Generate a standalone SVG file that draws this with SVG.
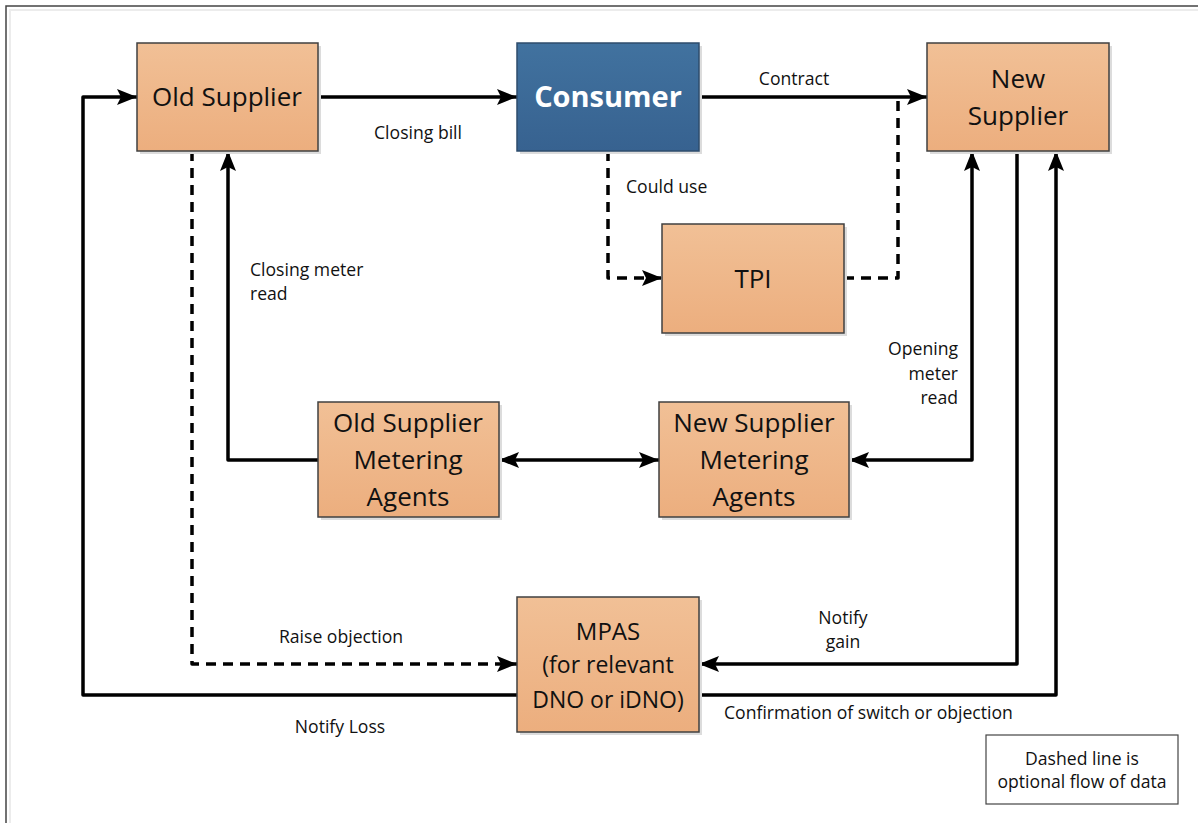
<svg xmlns="http://www.w3.org/2000/svg" width="1198" height="823" viewBox="0 0 1198 823">
<defs>
  <linearGradient id="peach" x1="0" y1="0" x2="0" y2="1">
    <stop offset="0" stop-color="#f1c096"/>
    <stop offset="1" stop-color="#ecae7e"/>
  </linearGradient>
  <linearGradient id="blue" x1="0" y1="0" x2="0" y2="1">
    <stop offset="0" stop-color="#41729f"/>
    <stop offset="1" stop-color="#376290"/>
  </linearGradient>
  <marker id="ah" viewBox="0 0 20 16" refX="20" refY="8" markerWidth="20" markerHeight="16" markerUnits="userSpaceOnUse" orient="auto-start-reverse">
    <path d="M0,0 L20,8 L0,16 L4,8 Z" fill="#000"/>
  </marker>
  <style>
    .box { fill: url(#peach); stroke: #404040; stroke-width: 1.5; }
    .cbox { fill: url(#blue); stroke: #2e4c6c; stroke-width: 1.5; }
    .shadow { fill: #dcdcdc; }
    .nt { font-family: "Open Sans", "Liberation Sans", sans-serif; font-size: 26px; fill: #111; text-anchor: middle; }
    .ct { font-family: "Open Sans", "Liberation Sans", sans-serif; font-size: 29px; font-weight: bold; fill: #fff; text-anchor: middle; }
    .lb { font-family: "Open Sans", "Liberation Sans", sans-serif; font-size: 17.6px; fill: #111; }
    .ln { fill: none; stroke: #000; stroke-width: 3.5; stroke-linejoin: round; }
    .dl { fill: none; stroke: #000; stroke-width: 3.5; stroke-dasharray: 10 7; stroke-linejoin: round; }
  </style>
</defs>
<rect x="0" y="0" width="1198" height="823" fill="#fff"/>
<path d="M6,823 V6 H1198" fill="none" stroke="#444" stroke-width="1.5"/>
<path d="M10,823 V10 H1198" fill="none" stroke="#ececec" stroke-width="2"/>

<g id="connectors">
  <path class="ln" d="M318,97 H517" marker-end="url(#ah)"/>
  <text class="lb" x="418" y="139" text-anchor="middle">Closing bill</text>
  <path class="ln" d="M699,97 H927" marker-end="url(#ah)"/>
  <text class="lb" x="794" y="85" text-anchor="middle">Contract</text>
  <path class="dl" d="M608,151 V278 H662" marker-end="url(#ah)"/>
  <text class="lb" x="626" y="193">Could use</text>
  <path class="dl" d="M844,278 H898 V97"/>
  <path class="ln" d="M517,695 H83 V97 H137" marker-end="url(#ah)"/>
  <text class="lb" x="340" y="733" text-anchor="middle">Notify Loss</text>
  <path class="dl" d="M192,151 V664 H517" marker-end="url(#ah)"/>
  <text class="lb" x="341" y="643" text-anchor="middle">Raise objection</text>
  <path class="ln" d="M318,460 H228 V151" marker-end="url(#ah)"/>
  <text class="lb" x="250" y="276">Closing meter</text>
  <text class="lb" x="250" y="300">read</text>
  <path class="ln" d="M499,460 H659" marker-start="url(#ah)" marker-end="url(#ah)"/>
  <path class="ln" d="M849,460 H972 V151" marker-start="url(#ah)" marker-end="url(#ah)"/>
  <text class="lb" x="958" y="355" text-anchor="end">Opening</text>
  <text class="lb" x="958" y="380" text-anchor="end">meter</text>
  <text class="lb" x="958" y="404" text-anchor="end">read</text>
  <path class="ln" d="M1017,151 V664 H699" marker-end="url(#ah)"/>
  <text class="lb" x="843" y="624" text-anchor="middle">Notify</text>
  <text class="lb" x="843" y="648" text-anchor="middle">gain</text>
  <path class="ln" d="M699,695 H1056 V151" marker-end="url(#ah)"/>
  <text class="lb" x="724" y="719">Confirmation of switch or objection</text>
</g>

<g id="old-supplier">
  <rect class="shadow" x="140" y="46" width="181" height="108"/>
  <rect class="box" x="137" y="43" width="181" height="108"/>
  <text class="nt" x="227" y="106">Old Supplier</text>
</g>
<g id="consumer">
  <rect class="shadow" x="520" y="46" width="182" height="108"/>
  <rect class="cbox" x="517" y="43" width="182" height="108"/>
  <text class="ct" x="608" y="107">Consumer</text>
</g>
<g id="new-supplier">
  <rect class="shadow" x="930" y="46" width="182" height="108"/>
  <rect class="box" x="927" y="43" width="182" height="108"/>
  <text class="nt" x="1018" y="88">New</text>
  <text class="nt" x="1018" y="125">Supplier</text>
</g>
<g id="tpi">
  <rect class="shadow" x="665" y="227" width="182" height="109"/>
  <rect class="box" x="662" y="224" width="182" height="109"/>
  <text class="nt" x="753" y="288">TPI</text>
</g>
<g id="old-supplier-metering-agents">
  <rect class="shadow" x="321" y="405" width="181" height="115"/>
  <rect class="box" x="318" y="402" width="181" height="115"/>
  <text class="nt" x="408" y="432">Old Supplier</text>
  <text class="nt" x="408" y="469">Metering</text>
  <text class="nt" x="408" y="506">Agents</text>
</g>
<g id="new-supplier-metering-agents">
  <rect class="shadow" x="662" y="405" width="190" height="115"/>
  <rect class="box" x="659" y="402" width="190" height="115"/>
  <text class="nt" x="754" y="432">New Supplier</text>
  <text class="nt" x="754" y="469">Metering</text>
  <text class="nt" x="754" y="506">Agents</text>
</g>
<g id="mpas">
  <rect class="shadow" x="520" y="600" width="182" height="135"/>
  <rect class="box" x="517" y="597" width="182" height="135"/>
  <text class="nt" x="608" y="640" style="font-size:24px">MPAS</text>
  <text class="nt" x="608" y="673" style="font-size:23px">(for relevant</text>
  <text class="nt" x="608" y="708" style="font-size:23px">DNO or iDNO)</text>
</g>
<g id="legend">
  <rect x="986" y="735" width="192" height="69" fill="#fff" stroke="#444" stroke-width="1.2"/>
  <text class="lb" x="1082" y="765" text-anchor="middle">Dashed line is</text>
  <text class="lb" x="1082" y="788" text-anchor="middle">optional flow of data</text>
</g>
</svg>
